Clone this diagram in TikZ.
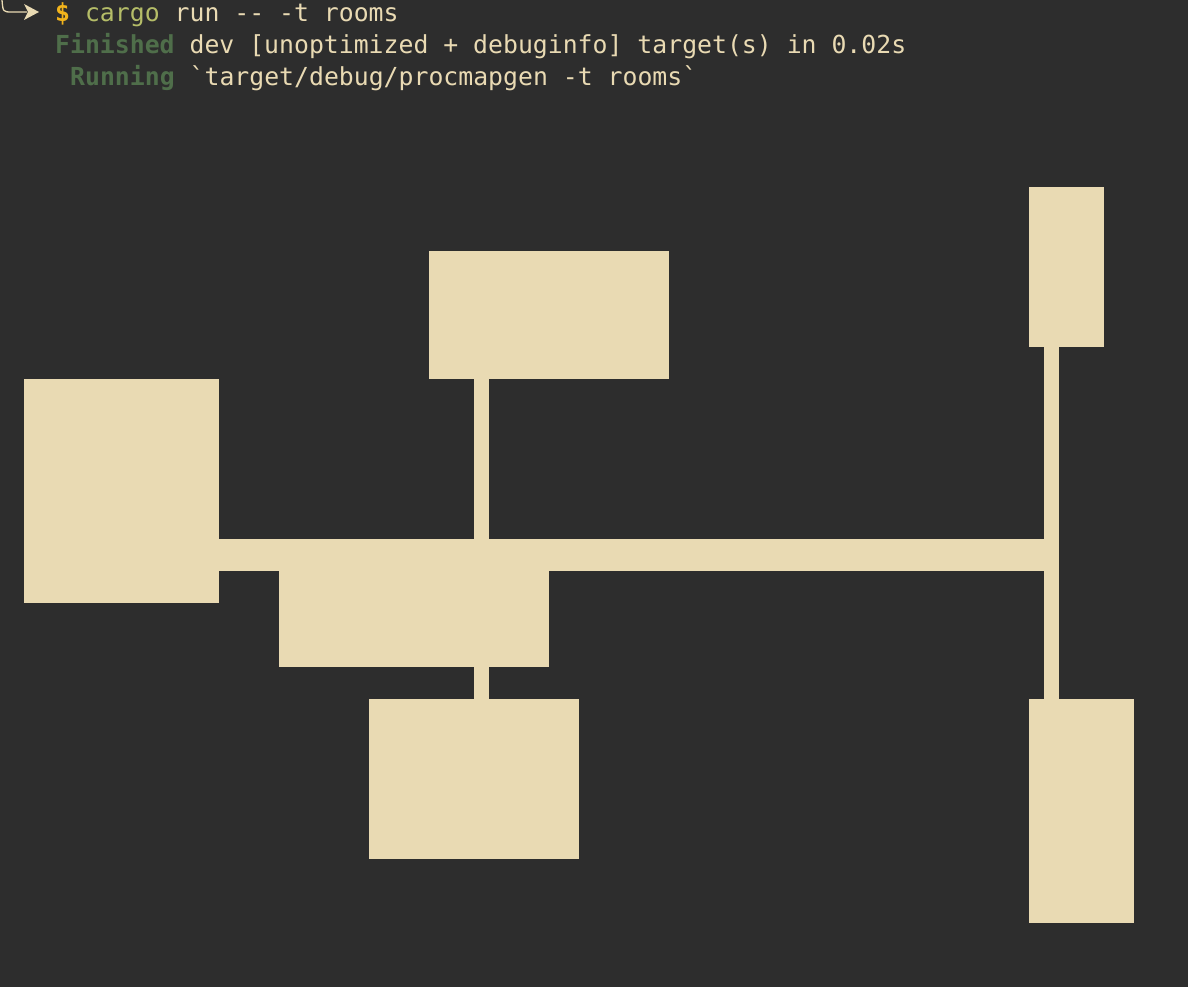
\documentclass[tikz,border=0pt]{standalone}
\usepackage{fontspec}
\setmonofont{DejaVu Sans Mono}
\definecolor{bg}{HTML}{2D2D2D}
\definecolor{sand}{HTML}{E9DAB3}
\definecolor{okgreen}{HTML}{4F6E4A}
\definecolor{cmdgreen}{HTML}{B5BD68}
\definecolor{dollar}{HTML}{F2B41C}
\begin{document}
\begin{tikzpicture}[x=1pt,y=-1pt,
  room/.style={fill=sand,draw=none},
  term/.style={anchor=base west,inner sep=0pt,font=\ttfamily\fontsize{24.8}{30}\selectfont,text=sand}]
\fill[bg] (0,0) rectangle (1188,987);
\useasboundingbox (0,0) rectangle (1188,987);
% prompt arrow
\draw[sand,line width=1.3pt] (2,0) .. controls (3,12) .. (12,12) -- (27,12);
\fill[sand] (24,4) -- (39,12) -- (24,20) -- (28,12) -- cycle;
% terminal text
\node[term] (l1) at (55,22) {\textcolor{dollar}{\textbf{\$}} \textcolor{cmdgreen}{cargo} run -- -t rooms};
\node[term] (l2) at (55,54) {\textcolor{okgreen}{\textbf{Finished}} dev [unoptimized + debuginfo] target(s) in 0.02s};
\node[term] (l3) at (70,86) {\textcolor{okgreen}{\textbf{Running}} `target/debug/procmapgen -t rooms`};
% rooms
\fill[room] (24,379) rectangle (219,603);
\fill[room] (429,251) rectangle (669,379);
\fill[room] (1029,187) rectangle (1104,347);
\fill[room] (279,539) rectangle (549,667);
\fill[room] (369,699) rectangle (579,859);
\fill[room] (1029,699) rectangle (1134,923);
% corridors
\fill[room] (474,378) rectangle (489,540);
\fill[room] (474,666) rectangle (489,700);
\fill[room] (218,539) rectangle (1059,571);
\fill[room] (1044,346) rectangle (1059,700);
\end{tikzpicture}
\end{document}
